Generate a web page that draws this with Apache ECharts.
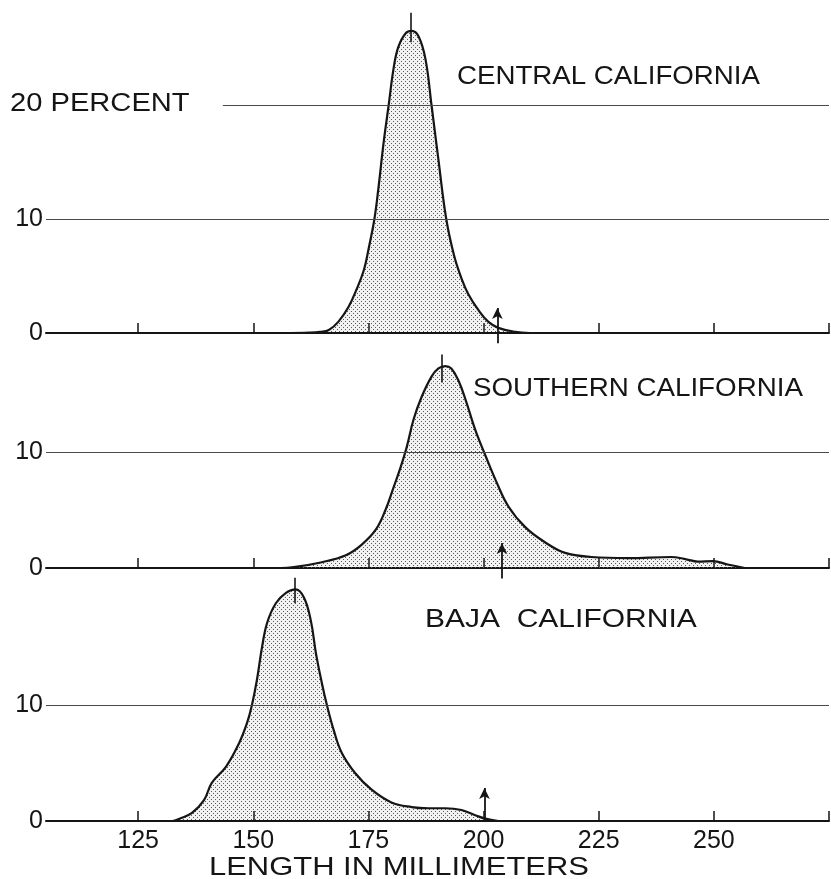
<!DOCTYPE html>
<html>
<head>
<meta charset="utf-8">
<script src="https://cdn.jsdelivr.net/npm/echarts@6.0.0/dist/echarts.min.js"></script>
<style>
html,body{margin:0;padding:0;background:#fff;}
#chart{width:831px;height:879px;}
</style>
</head>
<body>
<div id="chart"></div>
<script>
// ---- data (length in mm, percent) ----
const centralLen = [158, 162, 164.5, 166.4, 168.5, 170.7, 172.4, 174.0, 175.0, 176.3, 177.2, 178.3, 179.4, 180.5, 181.5, 183.1, 184.4, 185.9, 187.4, 188.7, 190.2, 191.9, 193.6, 195.2, 196.7, 198.9, 201.0, 203.2, 206.9, 210];
const centralPct = [0, 0.03, 0.1, 0.26, 1.0, 2.3, 3.8, 5.5, 7.3, 10, 12.8, 16.7, 20, 23.3, 25.1, 26.3, 26.5, 26, 24, 20, 15.2, 10, 6.8, 4.8, 3.4, 2.0, 1.0, 0.45, 0.1, 0];

const southLen = [156, 158.4, 164.9, 170.1, 173.5, 176.6, 178.7, 180.5, 182.0, 183.3, 184.8, 186.5, 188.7, 190.2, 191.7, 193.0, 194.5, 196.1, 198.2, 200.4, 202.6, 205.4, 209.1, 213.4, 217.7, 223.4, 231.4, 240.7, 244, 246.5, 249.8, 253, 256.7];
const southPct = [0, 0.05, 0.5, 1.1, 2.0, 3.3, 5.0, 7.0, 8.7, 10.4, 12.8, 14.7, 16.5, 17.2, 17.4, 17.2, 16.2, 14.5, 11.9, 9.7, 7.6, 5.3, 3.5, 2.2, 1.3, 0.95, 0.85, 0.95, 0.75, 0.55, 0.6, 0.3, 0];

const bajaLen = [130, 132.4, 134, 136.7, 139.3, 141.0, 144.1, 146.9, 148.6, 149.7, 150.8, 151.9, 153.0, 154.9, 157.1, 159.2, 161.0, 162.5, 163.6, 164.9, 166.0, 167.5, 169.2, 172.2, 175.7, 180.0, 184.4, 188, 191.7, 195.2, 198.2, 200.4, 203.2];
const bajaPct = [0, 0, 0.2, 0.7, 1.8, 3.3, 4.7, 6.7, 8.4, 10, 12.2, 15, 17.1, 18.8, 19.7, 20, 19.3, 17.3, 14.5, 11.9, 10, 7.8, 5.9, 4.1, 2.7, 1.6, 1.2, 1.1, 1.1, 0.95, 0.5, 0.2, 0];

const regionNames = ['CENTRAL CALIFORNIA', 'SOUTHERN CALIFORNIA', 'BAJA  CALIFORNIA'];
const xTicks = [125, 150, 175, 200, 225, 250, 275];
const xTickLabels = [125, 150, 175, 200, 225, 250];
const yTickLabels = [0, 10];
const xRange = [105, 275];
// modes (vertical marker through peak): [x, yFrom, yTo]
const modeMarks = [[184.3, 25.5, 28.1], [190.9, 16.0, 18.4], [159.0, 18.8, 21.0]];
// arrows: [x, yFrom, yTo]
const arrowMarks = [[203.0, -0.9, 2.2], [204.0, -0.9, 2.15], [200.2, 0, 2.85]];
// reference lines: [y, xFrom]
const gridLines = [[[10, 105], [20, 143.4]], [[10, 105]], [[10, 105]]];

// ---- helpers ----
function stipple() {
  const c = document.createElement('canvas');
  c.width = 4; c.height = 4;
  const g = c.getContext('2d');
  g.fillStyle = 'rgba(0,0,0,0.05)';
  g.fillRect(0, 0, 4, 4);
  g.fillStyle = '#5a5a5a';
  g.fillRect(1, 1, 1, 1);
  g.fillRect(3, 3, 1, 1);
  return c;
}
const pattern = { image: stipple(), repeat: 'repeat' };
const FONT = 'Liberation Sans';
const INK = '#151515';

const grids = [
  { left: 46, right: 2, top: 8.1, bottom: 534.6 },
  { left: 46, right: 2, top: 347.6, bottom: 299.4 },
  { left: 46, right: 2, top: 572, bottom: 58 }
];
const yRanges = [[-1, 28.5], [-1, 19], [0, 21.5]];
const lens = [centralLen, southLen, bajaLen];
const pcts = [centralPct, southPct, bajaPct];

const xAxes = grids.map((g, i) => ({
  type: 'value', gridIndex: i, min: xRange[0], max: xRange[1],
  axisLine: { show: true, onZero: true, lineStyle: { color: INK, width: 2 } },
  axisTick: { show: true, inside: true, length: 10, customValues: xTicks, lineStyle: { color: INK, width: 1.5 } },
  axisLabel: i === 2 ? { show: true, customValues: xTickLabels, margin: 8, fontFamily: FONT, fontSize: 25, color: INK } : { show: false },
  splitLine: { show: false }
}));
const yAxes = grids.map((g, i) => ({
  type: 'value', gridIndex: i, min: yRanges[i][0], max: yRanges[i][1],
  axisLine: { show: false }, axisTick: { show: false }, splitLine: { show: false },
  axisLabel: { show: true, customValues: yTickLabels, margin: 3, fontFamily: FONT, fontSize: 25, color: INK }
}));

const series = lens.map((L, i) => {
  const mlData = [];
  gridLines[i].forEach(([y, x0]) => {
    mlData.push([{ coord: [x0, y], lineStyle: { color: '#4a4a4a', width: 1.2, type: 'solid' } }, { coord: [xRange[1], y] }]);
  });
  const m = modeMarks[i];
  mlData.push([{ coord: [m[0], m[1]], lineStyle: { color: INK, width: 1.6, type: 'solid' } }, { coord: [m[0], m[2]] }]);
  const a = arrowMarks[i];
  mlData.push([{ coord: [a[0], a[1]], lineStyle: { color: INK, width: 1.8, type: 'solid' } }, { coord: [a[0], a[2]], symbol: 'arrow', symbolSize: [8, 11] }]);
  return {
    type: 'line', xAxisIndex: i, yAxisIndex: i,
    data: L.map((x, k) => [x, pcts[i][k]]),
    smooth: 0.4, symbol: 'none', clip: false,
    lineStyle: { color: INK, width: 2.2 },
    areaStyle: { color: pattern, opacity: 1, origin: 'auto' },
    markLine: { silent: true, symbol: ['none', 'none'], label: { show: false }, animation: false, data: mlData },
    animation: false
  };
});

function txt(text, x, y, size, sx) {
  return {
    type: 'text', x: x, y: y, scaleX: sx, scaleY: 1, silent: true,
    style: { text: text, fontFamily: FONT, fontSize: size, fill: INK,
      textAlign: 'left', textVerticalAlign: 'middle', align: 'left', verticalAlign: 'middle' }
  };
}

const option = {
  backgroundColor: '#ffffff',
  animation: false,
  grid: grids,
  xAxis: xAxes,
  yAxis: yAxes,
  series: series,
  graphic: [
    txt('20 PERCENT', 10, 104, 26, 1.12),
    txt(regionNames[0], 457, 77, 25, 1.107),
    txt(regionNames[1], 473, 389, 25, 1.11),
    txt(regionNames[2], 425, 620, 25, 1.2),
    txt('LENGTH IN MILLIMETERS', 209, 868, 26, 1.19)
  ]
};
const chart = echarts.init(document.getElementById('chart'), null, { renderer: 'canvas' });
chart.setOption(option);
</script>
</body>
</html>
